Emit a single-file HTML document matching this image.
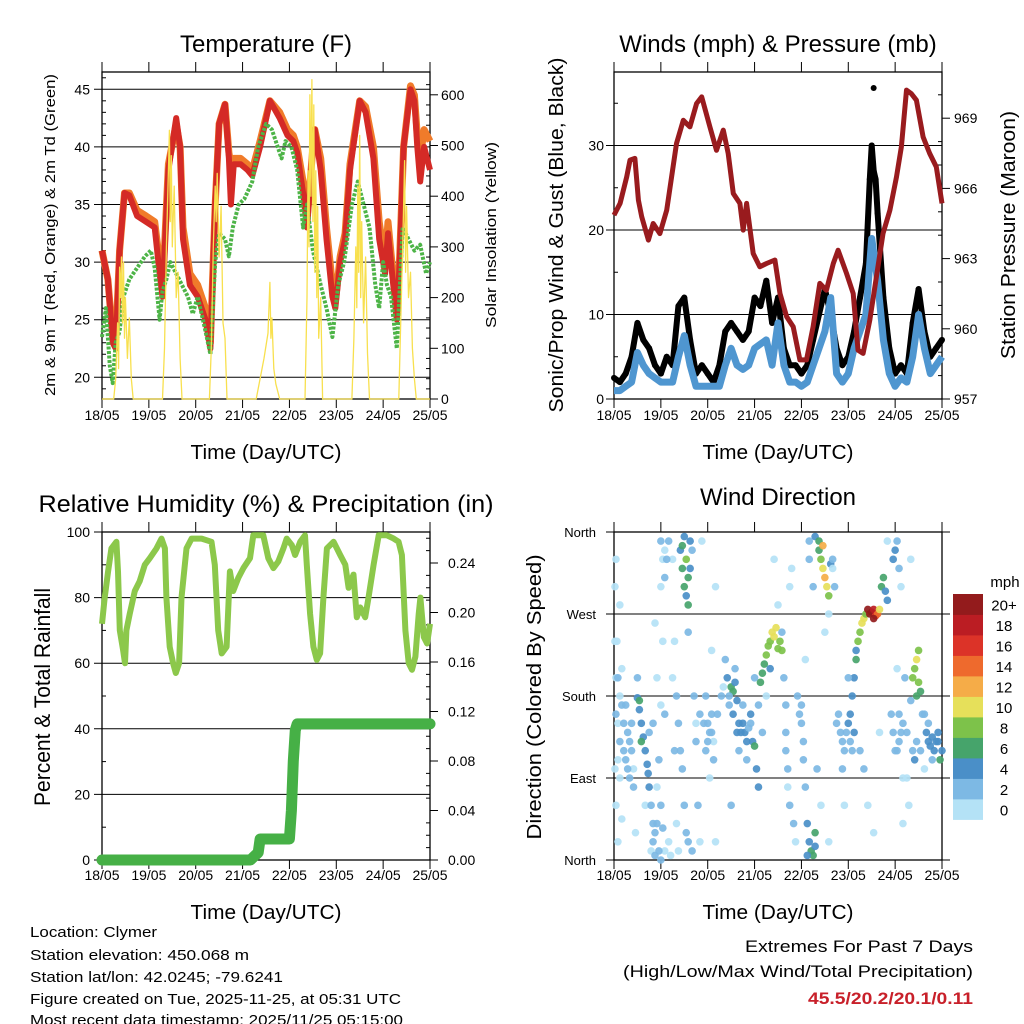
<!DOCTYPE html>
<html><head><meta charset="utf-8"><style>
html,body{margin:0;padding:0;background:#fff;}
svg{display:block;font-family:"Liberation Sans",sans-serif;}
</style></head><body>
<svg id="fig" width="1024" height="1024" viewBox="0 0 1024 1024" xmlns="http://www.w3.org/2000/svg">
<rect width="1024" height="1024" fill="#fff"/>
<g id="p1"></g>
<g id="p2"></g>
<g id="p3"></g>
<g id="p4"></g>

<text x="266" y="52" font-size="24" text-anchor="middle">Temperature (F)</text>
<text x="778" y="52" font-size="24" text-anchor="middle">Winds (mph) &amp; Pressure (mb)</text>
<text x="266" y="512" font-size="24" text-anchor="middle" textLength="455" lengthAdjust="spacingAndGlyphs">Relative Humidity (%) &amp; Precipitation (in)</text>
<text x="778" y="505" font-size="24" text-anchor="middle">Wind Direction</text>

<text x="266" y="459" font-size="20" text-anchor="middle" textLength="151" lengthAdjust="spacingAndGlyphs">Time (Day/UTC)</text>
<text x="778" y="459" font-size="20" text-anchor="middle" textLength="151" lengthAdjust="spacingAndGlyphs">Time (Day/UTC)</text>
<text x="266" y="919" font-size="20" text-anchor="middle" textLength="151" lengthAdjust="spacingAndGlyphs">Time (Day/UTC)</text>
<text x="778" y="919" font-size="20" text-anchor="middle" textLength="151" lengthAdjust="spacingAndGlyphs">Time (Day/UTC)</text>

<text transform="translate(55,235) rotate(-90)" font-size="15" text-anchor="middle" textLength="322" lengthAdjust="spacingAndGlyphs">2m &amp; 9m T (Red, Orange) &amp; 2m Td (Green)</text>
<text transform="translate(496,235) rotate(-90)" font-size="15" text-anchor="middle" textLength="186" lengthAdjust="spacingAndGlyphs">Solar Insolation (Yellow)</text>
<text transform="translate(563,235) rotate(-90)" font-size="20" text-anchor="middle" textLength="355" lengthAdjust="spacingAndGlyphs">Sonic/Prop Wind &amp; Gust (Blue, Black)</text>
<text transform="translate(1015,235) rotate(-90)" font-size="20" text-anchor="middle" textLength="248" lengthAdjust="spacingAndGlyphs">Station Pressure (Maroon)</text>
<text transform="translate(50,697) rotate(-90)" font-size="22" text-anchor="middle" textLength="218" lengthAdjust="spacingAndGlyphs">Percent &amp; Total Rainfall</text>
<text transform="translate(541,697) rotate(-90)" font-size="20" text-anchor="middle" textLength="285" lengthAdjust="spacingAndGlyphs">Direction (Colored By Speed)</text>

<g font-size="15">
<text x="30" y="937" textLength="127" lengthAdjust="spacingAndGlyphs">Location: Clymer</text>
<text x="30" y="960" textLength="219" lengthAdjust="spacingAndGlyphs">Station elevation: 450.068 m</text>
<text x="30" y="982" textLength="253" lengthAdjust="spacingAndGlyphs">Station lat/lon: 42.0245; -79.6241</text>
<text x="30" y="1004" textLength="371" lengthAdjust="spacingAndGlyphs">Figure created on Tue, 2025-11-25, at 05:31 UTC</text>
<text x="30" y="1025" textLength="373" lengthAdjust="spacingAndGlyphs">Most recent data timestamp: 2025/11/25 05:15:00</text>
</g>
<text x="973" y="952" font-size="17" text-anchor="end" textLength="228" lengthAdjust="spacingAndGlyphs">Extremes For Past 7 Days</text>
<text x="973" y="977" font-size="17" text-anchor="end" textLength="350" lengthAdjust="spacingAndGlyphs">(High/Low/Max Wind/Total Precipitation)</text>
<text x="973" y="1004" font-size="17" font-weight="bold" fill="#c8202a" text-anchor="end" textLength="165" lengthAdjust="spacingAndGlyphs">45.5/20.2/20.1/0.11</text>
</svg>
<script>
const dayLabels=["18/05","19/05","20/05","21/05","22/05","23/05","24/05","25/05"];
// temperature
const tempHours=[0,3,5.5,7,9,11.5,14,18,22.6,27,29.5,31,34,38,40,41.5,45,49,53,55.5,58,60,63,65,66,67.5,71,74.5,77,81,86,91,95,98,100,103,105,108,109,112,115,118,119.5,122,124.5,127,132,135,139,142,145,146.5,151,152.5,154.5,158,160,161.5,163,165,168];
const temp2m=[31,28.5,23,22.5,31,36,35.8,34,33.5,33,29,27,38,42.5,40,32,28,27,25,22.5,35,42,43.7,39,35,38.5,38.5,38,37.5,40,44,42.5,41,40.5,39.5,36,33,40,41.5,38,32,27,26,30,32,38,44,43,39,32,29,32.5,25,30,40,45,44,40,37,40,38];
const temp9m=[31,28.5,23.5,23,31,36,36,34.5,34,33.5,30,27.5,38.5,42,40,33,29,28,26,23,35,42,43.7,39.5,38.5,39,39,38.5,38,40.5,44,43,41.5,41,40,37,33.5,40,41.5,39,33,28,26.5,30.5,32.5,38.5,44,43.5,40,33.5,30,33.5,25.5,30.5,40,45.3,44.5,41,39,41.5,40.5];
const dewHours=[0,2,4,5.5,7,9,11,14,18,22,25,27,29.5,31,33,35,38,41,44,46.5,49,53,55.5,58,60,63,65,67,70,73,77,80,84,87,90,92,94,97,100,103,105,108,112,115,118,121,124,128,131,134,137,140,142,144,146,148,151,154,157,160,163,166,168];
const dewVals=[23.5,26,21,19.5,23,24,27,28.5,29.5,30.5,31,29.5,25,27.5,28.5,30,29,28,27,25.5,27,24,22,30,32.5,32,30.5,33,35,35.5,37,40,42,41.5,40,39,40.5,40,38,33,35,31,28,26,23.5,28,30,35,37,35,33,28,26,30,28,27,22.5,33,32,31,31.5,29,30];
const solarHours=[0,6,7,8,8.5,9,9.5,10,10.5,11,11.5,12,13,14,15,16,31,32,33,34,34.5,35,35.5,36,37,38,39,40,41,55,56,57,58,58.5,59,60,61,62,63,64,79,81,83,85,86,86.5,87,88,89,91,104,105,105.5,106,106.5,107,107.5,108,108.5,109,109.5,110,110.5,111,112,113,128,129,130,130.5,131,131.5,132,132.5,133,134,135,136,137,152,153,154,155,155.5,156,157,158,159,160,161,168];
const solarVals=[0,0,40,150,60,260,200,280,150,270,120,200,80,160,40,0,0,100,300,450,530,350,480,300,420,200,250,80,0,0,100,300,420,350,445,280,380,150,120,0,0,40,80,130,230,120,160,60,30,0,0,200,450,300,600,400,630,350,580,250,450,200,380,120,200,0,0,120,300,180,420,250,520,200,350,150,280,90,0,0,150,300,470,250,380,200,250,100,40,0,0];
// winds / pressure
const windHours=[0,3,6,9,12,15,18,21,24,27,30,33,36,39,42,45,48,51,54,57,60,63,66,69,72,75,78,81,84,87,90,93,96,99,102,105,108,111,114,117,120,123,126,129,132,135,138,141,144,147,150,153,156,159,162,165,168];
const windSpeed=[1,1,1.5,2,5.5,4,3,2.5,2,2,2,5,7.5,4,1.5,1.5,1.5,1.5,1.5,4,6,4,3.5,4,6,6.5,7,4,9,4,2,2,1.5,2,4,6,8,12,3,2,3,6,8,10,19,14,7,3,1.5,2.5,2,5,10,6,3,4,5];
const gustHours=[0,3,6,9,12,15,18,21,24,27,30,33,36,39,42,45,48,51,54,57,60,63,66,69,72,75,78,81,84,87,90,93,96,99,102,105,108,111,114,117,120,123,126,129,131,132,133,134,135,138,141,144,147,150,153,156,159,162,165,168];
const gustVals=[2.5,2,3,5,9,7,6,4,3,5,4,11,12,7,3,4,3,2,4,8,9,8,7,8,12,11,14,9,12,6,4,4,3,4,7,10,13,10,6,4,5,8,12,16,26,30,27,26,22,12,6,3,4,3,9,13,8,5,6,7];
const gustPeakHour=[133];
const gustPeakVal=[36.8];
const presHours=[0,3.1,6.5,8.2,10.7,12.5,14.2,17.6,20.1,23.5,27,32,35.5,38.9,42.3,44.9,49.1,52.5,56,58.5,61.1,64.5,66.2,67.9,71.3,74.7,78.1,82.4,85,88.4,91.8,95.2,98.6,102,105.4,108.8,112.3,114.8,119.1,122.5,125,127.6,131,134.4,137.8,141.3,144.7,147.2,149.8,152.3,154.9,158.3,161.7,165.1,168];
const presVals=[964.86,965.36,966.49,967.21,967.28,965.5,964.79,963.79,964.5,964.07,965.07,967.92,968.91,968.63,969.63,969.91,968.63,967.63,968.49,967.49,965.78,965.36,964.22,965.36,963.22,962.65,962.79,962.94,961.51,960.52,960.09,958.67,958.67,960.09,961.94,961.65,962.79,963.36,962.37,961.51,959.09,958.95,960.37,962.22,964.07,965.07,966.49,967.78,970.2,970.05,969.77,968.2,967.49,966.92,965.36];
// humidity / precipitation
const rhHours=[0,1.4,3.1,4.8,7.4,8.2,9.1,10.8,11.8,12.5,14.2,16.8,19.3,21.9,24.5,27.9,30.5,32.2,33,34.7,36.4,37.8,39.5,40.7,43.3,45.9,51,56.1,57.8,59.5,61.3,63.8,65.5,67.2,69.8,72.4,75.8,77.5,82.6,85.2,87.8,90.3,92.9,94.6,97.2,98.9,101.5,104,104.9,106.6,108.3,110,111.7,113.4,115.2,118.6,122,124.6,126.3,128.8,130.5,132.3,134.8,136.5,139.1,141.7,145.9,149.4,151.9,153.6,155.4,157.1,158.8,160.5,162.2,163.1,164.8,166.5,168];
const rhVals=[72,80,88,95,97,88,70,64,60,70,75,82,85,90,92,95,98,95,80,65,60,57,60,80,95,98,98,97,90,70,63,65,88,82,86,89,92,99,99,92,89,91,95,98,96,93,97,99,90,75,65,61,63,80,95,97,93,90,83,87,74,77,74,80,90,99,99,98,97,93,70,60,58,62,75,80,68,66,72];
const precipHours=[0,76,78,80,81,96,97,98,99,100,168];
const precipVals=[0,0,0.003,0.006,0.017,0.017,0.04,0.08,0.105,0.11,0.11];
// wind direction
const dirHours=[1,1,2,1,2,3,0.5,3,2,4, 6,7,8,5,9,8,10, 12,13,14,15,16,17,17.5,14,13,18, 19,20,21,22,22,23,24,20,22,21, 24,25,24,26,25,24,26,25,26, 34,35,36,37,38,39,36,37,38,35,39,40,38, 30,31,32,33,30,41,42,43,44,45, 47,48,49,50,51,50,52,49,52, 60,61,62,63,59,61,63,64,60, 66,67,68,69,70,71,72,73,74, 75,76,77,78,79,80,81,82,83,84,85,86,80, 87,88,88,89,90,91, 96,97,98,99,100,101,102,103,99,103,100,98, 103,105,106,107,108,109,110,105,107,111,112,110, 117,118,119,120,121,122,123,124,125,126,127,128,129,124, 130,131,132,133,134,135,133,136, 137,138,139,140, 143,144,145,146,147,145,146,147,145,148,148,149, 153,154,155,156,157,155,156,152,153,154, 160,161,162,163,164,165,166,167,168,158,159,
0.5,0.5,1,2,1.5,3,3,4,4,5, 6,7,9,10,11,12,16,18,19,20, 21,23,24,26,27,28,28,29,31,32, 33,34,35,36,37,38,40,42,44,46, 47,48,50,51,53,55,56,57,58,59, 62,64,65,66,68,70,72,74,76,78, 82,84,86,88,89,90,92,93,94,95, 96,97,100,102,104,106,108,110,112,113, 114,115,116,117,118,120,121,122,123,126, 128,130,133,136,140,142,143,144,146,148, 150,150,151,152,155,157,159,161,163,166];
const dirDeg=[330,200,150,60,20,280,240,180,110,45, 170,140,130,120,150,90,100, 178,165,150,135,120,105,95,130,175,80, 10,20,5,40,80,110,60,150,200,260, 350,330,300,310,240,170,160,35,10, 340,320,300,330,310,350,355,290,280,345,320,340,250, 200,120,40,10,330,180,150,60,20,350, 180,150,140,160,130,230,300,90,20, 190,185,195,175,170,160,140,120,60, 150,140,130,145,160,130,125,100,80, 195,205,215,225,235,240,250,245,255,232,240,230,210, 200,170,140,80,300,320, 170,130,80,40,20,10,5,30,5,15,350,220, 355,340,330,320,310,300,290,350,345,325,330,270, 130,120,140,150,160,180,200,220,240,250,260,265,270,230, 275,270,272,275,268,270,265,275, 300,310,295,285, 330,340,350,320,300,210,160,140,120,90,40,200, 200,210,220,195,185,180,230,175,120,110, 140,130,125,135,120,130,140,110,120,160,100,
300,100,160,200,240,130,90,170,210,150, 110,100,120,80,30,200,60,140,60,40, 30,10,0,340,330,350,20,5,240,180, 150,120,100,60,30,20,10,130,160,150, 120,130,140,110,160,180,190,220,200,180, 210,150,140,170,110,150,200,170,140,180, 330,280,250,120,100,60,40,20,180,160, 150,110,330,300,100,60,250,20,320,300, 150,160,140,100,60,200,130,120,140,120, 100,60,30,140,350,160,140,120,130,150, 140,90,60,330,130,120,160,150,110,130];
const dirSpeed=[1,1,1,1,1,1,1,1,1,1, 2,2,2,2,2,2,1, 4,4,4,4,4,4,4,6,6,4, 1,2,2,2,1,2,2,2,1,1, 2,1,1,2,1,1,2,2,1, 4,6,6,8,6,4,4,4,6,6,4,2,2, 1,2,1,1,1,2,1,2,1,1, 2,2,2,2,1,1,1,1,1, 6,6,4,4,2,4,4,2,2, 4,4,4,2,4,4,6,4,4, 6,6,6,8,8,8,10,10,10,8,8,8,4, 2,2,2,1,1,1, 2,2,2,4,4,6,6,6,4,4,2,1, 4,6,8,10,12,10,8,6,12,4,2,1, 2,2,2,4,4,4,4,6,8,8,10,10,8,4, 20,20,20,18,16,14,20,10, 6,6,4,4, 4,4,2,2,1,1,2,2,2,1,1,2, 8,8,10,8,6,6,8,2,2,4, 4,4,4,4,4,4,4,6,4,2,1,
1,1,2,2,1,2,1,2,1,3, 3,3,2,2,1,2,1,2,2,3, 3,2,2,1,2,2,1,1,1,2, 3,2,2,2,2,3,2,2,2,2, 3,3,3,2,2,2,1,3,4,3, 2,4,4,3,2,2,2,3,2,1, 1,1,2,2,2,2,2,1,2,2, 3,2,2,2,2,1,1,1,1,2, 2,3,3,2,1,2,3,3,4,2, 2,1,1,1,1,2,3,2,3,3, 3,1,1,1,2,3,3,3,3,4];
const speedColors=["#b4e2f6","#7db9e4","#4a8fc8","#46a46b","#7dc24a","#e6e05a","#f5ac48","#ee6a2d","#dc3328","#bb1d23","#931b1c"];
const speedLabels=["0","2","4","6","8","10","12","14","16","18","20+"];

const NS="http://www.w3.org/2000/svg";
function mk(parent,tag,attrs){const e=document.createElementNS(NS,tag);for(const k in attrs)e.setAttribute(k,attrs[k]);parent.appendChild(e);return e;}
function txt(parent,x,y,s,size,anchor){const t=mk(parent,"text",{x:x,y:y,"font-size":size,"text-anchor":anchor});t.textContent=s;return t;}
const X0=102,X1=430,X2=614,X3=942;
const xA=h=>X0+h*(X1-X0)/168, xB=h=>X2+h*(X3-X2)/168;
function pts(xs,ys,fx,fy){return xs.map((h,i)=>fx(h).toFixed(1)+","+fy(ys[i]).toFixed(1)).join(" ");}

function frame(g,xl,xr,yt,yb,labelY,name){
  mk(g,"rect",{x:xl,y:yt,width:xr-xl,height:yb-yt,fill:"none",stroke:"#000","stroke-width":1.3});
  for(let d=0;d<8;d++){const x=xl+d*(xr-xl)/7;
    mk(g,"line",{x1:x,y1:yt-10,x2:x,y2:yt,stroke:"#000","stroke-width":1});
    mk(g,"line",{x1:x,y1:yb,x2:x,y2:yb+9,stroke:"#000","stroke-width":1});
    const t=txt(g,x,labelY,dayLabels[d],14,"middle");
    
    }
}
function grid(g,xl,xr,y){mk(g,"line",{x1:xl,y1:y,x2:xr,y2:y,stroke:"#000","stroke-width":1});}

// ---------- Panel 1 ----------
(function(){
const g=document.getElementById("p1");
const yT=t=>377.3-(t-20)*11.52, yS=w=>399-w*0.507;
[20,25,30,35,40,45].forEach(v=>{grid(g,X0-8,X1,yT(v));const t=txt(g,X0-12,yT(v)+5,String(v),14,"end");
  
  });
for(let v=19;v<=46;v++){if(v%5)mk(g,"line",{x1:X0,y1:yT(v),x2:X0+4,y2:yT(v),stroke:"#000"});}
for(let w=0;w<=620;w+=20){const big=w%100===0;mk(g,"line",{x1:X1,y1:yS(w),x2:big?X1+8:X1-4,y2:yS(w),stroke:"#000"});
  if(big){const t=txt(g,X1+11,yS(w)+5,String(w),14,"start");
  
  }}
frame(g,X0,X1,72,399,420,'p1');
const o=mk(g,"polyline",{points:pts(tempHours,temp9m,xA,yT),fill:"none",stroke:"#f07b2a","stroke-width":7,"stroke-linejoin":"round"});


const r=mk(g,"polyline",{points:pts(tempHours,temp2m,xA,yT),fill:"none",stroke:"#d42a26","stroke-width":6,"stroke-linejoin":"round"});


const d=mk(g,"polyline",{points:pts(dewHours,dewVals,xA,yT),fill:"none",stroke:"#4db447","stroke-width":4,"stroke-dasharray":"3 1.5","stroke-linejoin":"round"});


const s=mk(g,"polyline",{points:pts(solarHours,solarVals,xA,yS),fill:"none",stroke:"#f8e04e","stroke-width":1.3,"stroke-linejoin":"round"});


})();

// ---------- Panel 2 ----------
(function(){
const g=document.getElementById("p2");
const yW=m=>399-m*8.45, yP=p=>399-(p-957)*23.4;
[0,10,20,30].forEach(v=>{grid(g,X2-8,X3,yW(v));const t=txt(g,X2-10,yW(v)+5,String(v),14,"end");
  
  });
for(let v=5;v<=35;v+=10)mk(g,"line",{x1:X2,y1:yW(v),x2:X2+4,y2:yW(v),stroke:"#000"});
for(let p=957;p<=970.5;p+=1){const big=(p-957)%3===0;mk(g,"line",{x1:X3,y1:yP(p),x2:big?X3+8:X3-4,y2:yP(p),stroke:"#000"});
  if(big){const t=txt(g,X3+12,yP(p)+5,String(p),14,"start");
  
  }}
frame(g,X2,X3,72,399,420,'p2');
const gl=mk(g,"polyline",{points:pts(gustHours,gustVals,xB,yW),fill:"none",stroke:"#000","stroke-width":6,"stroke-linejoin":"round"});


gustHours.forEach((h,i)=>{const c=mk(g,"circle",{cx:xB(h),cy:yW(gustVals[i]),r:3,fill:"#000"});
  
  });
gustPeakHour.forEach((h,i)=>{const c=mk(g,"circle",{cx:xB(h),cy:yW(gustPeakVal[i]),r:3,fill:"#000"});
  
  });
const bl=mk(g,"polyline",{points:pts(windHours,windSpeed,xB,yW),fill:"none",stroke:"#4f96d0","stroke-width":7,"stroke-linejoin":"round"});


const pl=mk(g,"polyline",{points:pts(presHours,presVals,xB,yP),fill:"none",stroke:"#991b1e","stroke-width":5,"stroke-linejoin":"round"});


})();

// ---------- Panel 3 ----------
(function(){
const g=document.getElementById("p3");
const yR=r=>860-r*3.28, yPr=i=>860-i*1237.5;
[0,20,40,60,80,100].forEach(v=>{grid(g,X0-8,X1,yR(v));const t=txt(g,X0-12,yR(v)+5,String(v),14,"end");
  
  });
for(let v=10;v<=90;v+=20)mk(g,"line",{x1:X0,y1:yR(v),x2:X0+4,y2:yR(v),stroke:"#000"});
for(let k=0;k<=26;k++){const i=k*0.01;const big=k%4===0;mk(g,"line",{x1:X1,y1:yPr(i),x2:big?X1+8:X1-4,y2:yPr(i),stroke:"#000"});
  if(big){const t=txt(g,X1+18,yPr(i)+5,i.toFixed(2),14,"start");
  
  }}
frame(g,X0,X1,532,860,880,'p3');
const rl=mk(g,"polyline",{points:pts(rhHours,rhVals,xA,yR),fill:"none",stroke:"#8cc84b","stroke-width":6,"stroke-linejoin":"round"});


const pr=mk(g,"polyline",{points:pts(precipHours,precipVals,xA,yPr),fill:"none",stroke:"#46b046","stroke-width":11,"stroke-linejoin":"round","stroke-linecap":"round"});


})();

// ---------- Panel 4 ----------
(function(){
const g=document.getElementById("p4");
const yD=d=>860-d*328/360;
const names=["North","East","South","West","North"];
[0,90,180,270,360].forEach((v,i)=>{grid(g,X2-8,X3+8,yD(v));const t=txt(g,X2-18,yD(v)+5,names[i],13,"end");
  
  });
frame(g,X2,X3,532,860,880,'p4');
dirHours.forEach((h,i)=>{const b=Math.min(10,Math.floor(dirSpeed[i]/2));
  const c=mk(g,"circle",{cx:xB(h),cy:yD(dirDeg[i]),r:3.8,fill:speedColors[b],"fill-opacity":0.92});
  
  });
const lg=mk(g,"g",{});


const cbTop=594,binH=20.5;
speedLabels.forEach((s,i)=>{const y=cbTop+(10-i)*binH;
  const r=mk(lg,"rect",{x:953,y:y,width:30,height:binH+0.4,fill:speedColors[i]});
  
  
  const t=txt(lg,1004,y+binH/2+6,s,15,"middle");
  
  });
const u=txt(lg,1005,587,"mph",15,"middle");


})();
</script>
</body></html>
